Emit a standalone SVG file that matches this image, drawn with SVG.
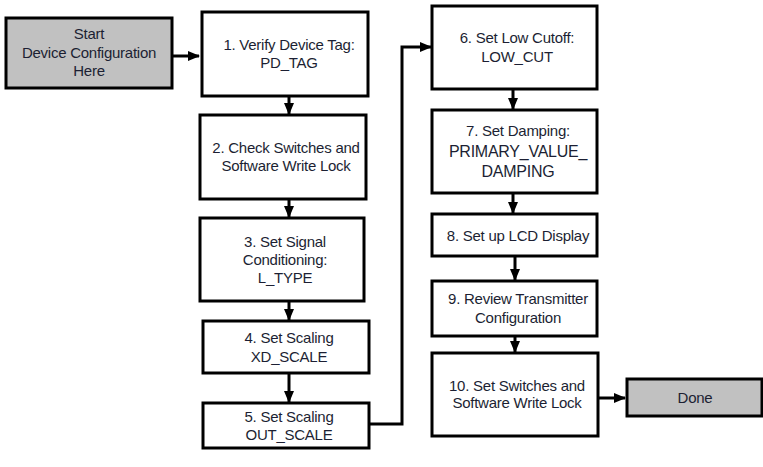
<svg xmlns="http://www.w3.org/2000/svg" width="763" height="467" viewBox="0 0 763 467">
<style>
.box{fill:#fff;stroke:#000;stroke-width:3}
.gray{fill:#c1c1c1;stroke:#000;stroke-width:3}
.t{font-family:"Liberation Sans",Arial,sans-serif;font-size:15px;letter-spacing:-0.25px;fill:#1c1f33;text-anchor:middle}
.c{fill:none;stroke:#000;stroke-width:3}
</style>
<defs>
<marker id="ah" markerUnits="userSpaceOnUse" markerWidth="12" markerHeight="12" viewBox="0 0 12 12" refX="11" refY="6" orient="auto">
<path d="M0,1 L12,6 L0,11 Z" fill="#000"/>
</marker>
</defs>
<rect width="763" height="467" fill="#fff"/>
<g id="connectors">
<path class="c" d="M172,56 H199" marker-end="url(#ah)"/>
<path class="c" d="M289,96 V114" marker-end="url(#ah)"/>
<path class="c" d="M289,199 V217" marker-end="url(#ah)"/>
<path class="c" d="M289,301 V320" marker-end="url(#ah)"/>
<path class="c" d="M289,373 V402" marker-end="url(#ah)"/>
<path class="c" d="M369,424 H402 V47 H431" marker-end="url(#ah)"/>
<path class="c" d="M513,89 V109" marker-end="url(#ah)"/>
<path class="c" d="M513,193 V213" marker-end="url(#ah)"/>
<path class="c" d="M515,256 V280" marker-end="url(#ah)"/>
<path class="c" d="M515,336 V352" marker-end="url(#ah)"/>
<path class="c" d="M598,398 H625" marker-end="url(#ah)"/>
</g>
<g id="start">
<rect class="gray" x="6" y="18" width="166" height="70"/>
<text class="t" x="89" y="39">Start</text>
<text class="t" x="89" y="58">Device Configuration</text>
<text class="t" x="89" y="76">Here</text>
</g>
<g id="step1">
<rect class="box" x="202" y="12" width="166" height="84"/>
<text class="t" x="289" y="50">1. Verify Device Tag:</text>
<text class="t" x="289" y="68">PD_TAG</text>
</g>
<g id="step2">
<rect class="box" x="200" y="115" width="166" height="84"/>
<text class="t" x="286" y="153">2. Check Switches and</text>
<text class="t" x="286" y="171">Software Write Lock</text>
</g>
<g id="step3">
<rect class="box" x="200" y="218" width="164" height="83"/>
<text class="t" x="285" y="247">3. Set Signal</text>
<text class="t" x="285" y="265">Conditioning:</text>
<text class="t" x="285" y="283">L_TYPE</text>
</g>
<g id="step4">
<rect class="box" x="203" y="321" width="166" height="52"/>
<text class="t" x="289" y="343">4. Set Scaling</text>
<text class="t" x="289" y="362">XD_SCALE</text>
</g>
<g id="step5">
<rect class="box" x="203" y="403" width="166" height="45"/>
<text class="t" x="289" y="422">5. Set Scaling</text>
<text class="t" x="289" y="440">OUT_SCALE</text>
</g>
<g id="step6">
<rect class="box" x="432" y="6" width="165" height="83"/>
<text class="t" x="517" y="43">6. Set Low Cutoff:</text>
<text class="t" x="517" y="62">LOW_CUT</text>
</g>
<g id="step7">
<rect class="box" x="432" y="110" width="165" height="83"/>
<text class="t" x="518" y="136">7. Set Damping:</text>
<text class="t" x="518" y="157" style="font-size:16px">PRIMARY_VALUE_</text>
<text class="t" x="518" y="177" style="font-size:16px">DAMPING</text>
</g>
<g id="step8">
<rect class="box" x="432" y="214" width="165" height="42"/>
<text class="t" x="518" y="241">8. Set up LCD Display</text>
</g>
<g id="step9">
<rect class="box" x="432" y="281" width="165" height="55"/>
<text class="t" x="518" y="304">9. Review Transmitter</text>
<text class="t" x="518" y="323">Configuration</text>
</g>
<g id="step10">
<rect class="box" x="432" y="353" width="166" height="83"/>
<text class="t" x="517" y="391">10. Set Switches and</text>
<text class="t" x="517" y="408">Software Write Lock</text>
</g>
<g id="done">
<rect class="gray" x="627" y="379" width="135" height="37"/>
<text class="t" x="695" y="403">Done</text>
</g>
</svg>
